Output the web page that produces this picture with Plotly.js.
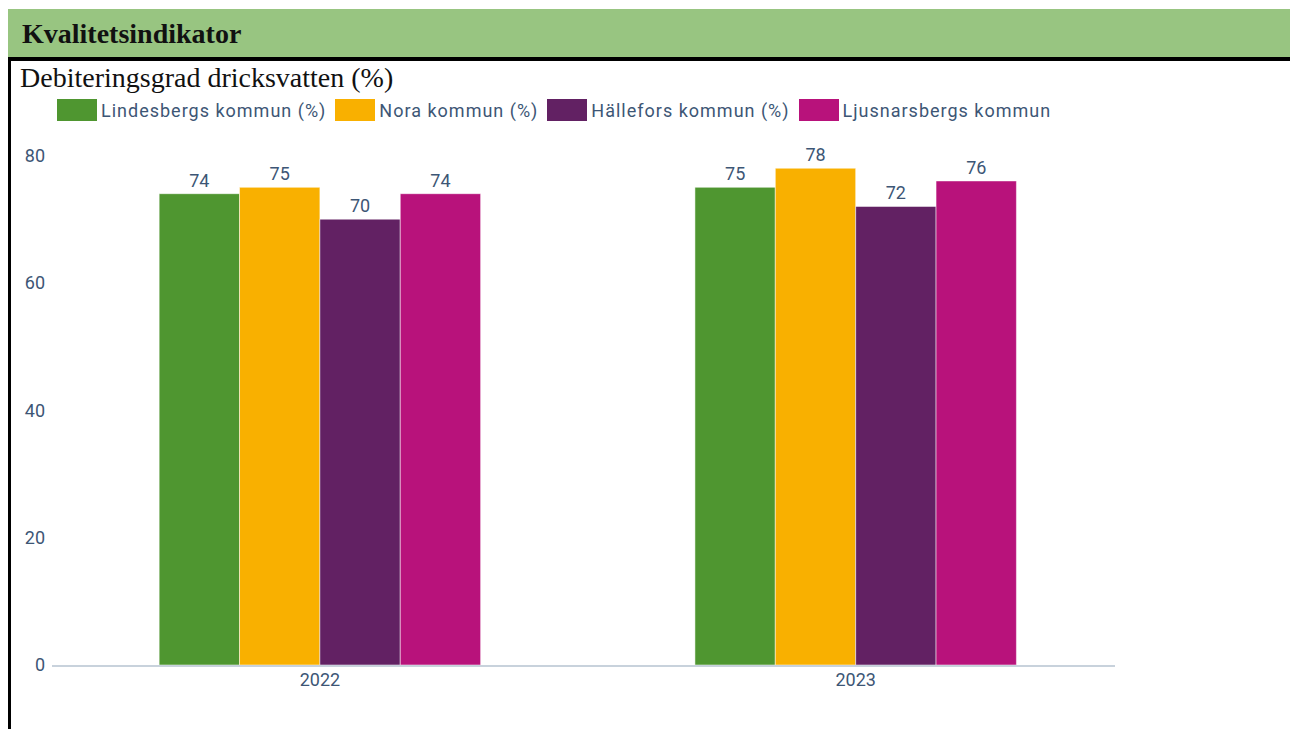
<!DOCTYPE html>
<html>
<head>
<meta charset="utf-8">
<script src="https://cdn.plot.ly/plotly-3.0.1.min.js"></script>
<style>
  html, body { margin: 0; padding: 0; background: #fff; }
  #wrap { position: relative; width: 1290px; height: 729px; overflow: hidden; background: #fff; }
  #chart { position: absolute; left: 0; top: 0; width: 1290px; height: 729px; }
  #hdr { position: absolute; left: 8px; top: 9px; width: 1282px; height: 48px; background: #98c581; }
  #hdrtxt { position: absolute; left: 22px; top: 18px; font-family: "Liberation Serif", serif; font-weight: bold; font-size: 28px; line-height: 32px; color: #111; }
  #hline { position: absolute; left: 8px; top: 57px; width: 1282px; height: 4px; background: #000; }
  #vline { position: absolute; left: 8px; top: 57px; width: 3px; height: 672px; background: #000; }
  #sub { position: absolute; left: 20px; top: 62px; font-family: "Liberation Serif", serif; font-size: 28px; line-height: 32px; color: #111; }
  #legend { position: absolute; left: 57px; top: 99px; display: flex; align-items: center; font-family: Roboto, sans-serif; font-size: 18px; letter-spacing: 1px; color: #3d5675; white-space: nowrap; }
  .item { display: flex; align-items: center; margin-right: 9px; }
  .sw { width: 40px; height: 22px; margin-right: 4px; }
</style>
</head>
<body>
<div id="wrap">
  <div id="chart"></div>
  <div id="hdr"></div>
  <div id="hdrtxt">Kvalitetsindikator</div>
  <div id="hline"></div>
  <div id="vline"></div>
  <div id="sub">Debiteringsgrad dricksvatten (%)</div>
  <div id="legend"></div>
</div>
<script>
const years = ["2022", "2023"];
const seriesNames = ["Lindesbergs kommun (%)", "Nora kommun (%)", "Hällefors kommun (%)", "Ljusnarsbergs kommun"];
const lindesberg = [74, 75];
const nora = [75, 78];
const hallefors = [70, 72];
const ljusnarsberg = [74, 76];
const seriesValues = [lindesberg, nora, hallefors, ljusnarsberg];
const colors = ["#4f9630", "#f9b000", "#622163", "#b8127b"];
const yTicks = [0, 20, 40, 60, 80];

const textColor = "#3d5675";
const traces = seriesNames.map((name, i) => ({
  type: "bar",
  name: name,
  x: years,
  y: seriesValues[i],
  text: seriesValues[i].map(String),
  textposition: "outside",
  cliponaxis: false,
  textfont: { family: "Roboto, sans-serif", size: 18, color: textColor },
  marker: { color: colors[i], line: { color: "rgba(255,255,255,0.5)", width: 1 } },
  hoverinfo: "none"
}));

const layout = {
  width: 1290,
  height: 729,
  margin: { l: 52, r: 175, t: 129.5, b: 64, pad: 0 },
  paper_bgcolor: "rgba(0,0,0,0)",
  plot_bgcolor: "rgba(0,0,0,0)",
  showlegend: false,
  barmode: "group",
  bargap: 0.4,
  bargroupgap: 0,
  xaxis: {
    type: "category",
    range: [-0.5, 1.484],
    showgrid: false,
    showline: true,
    linecolor: "#c8d2dc",
    linewidth: 2,
    ticks: "",
    ticklabelstandoff: -3,
    tickfont: { family: "Roboto, sans-serif", size: 18, color: textColor },
    zeroline: false
  },
  yaxis: {
    range: [0, 84],
    tickvals: yTicks,
    ticktext: yTicks.map(String),
    showgrid: false,
    zeroline: false,
    showline: false,
    ticks: "",
    ticklabelstandoff: 6,
    tickfont: { family: "Roboto, sans-serif", size: 18, color: textColor }
  }
};

Plotly.newPlot("chart", traces, layout, { staticPlot: true, displayModeBar: false });

const leg = document.getElementById("legend");
seriesNames.forEach((name, i) => {
  const it = document.createElement("div");
  it.className = "item";
  const sw = document.createElement("div");
  sw.className = "sw";
  sw.style.background = colors[i];
  const tx = document.createElement("span");
  tx.textContent = name;
  it.appendChild(sw);
  it.appendChild(tx);
  leg.appendChild(it);
});
</script>
</body>
</html>
